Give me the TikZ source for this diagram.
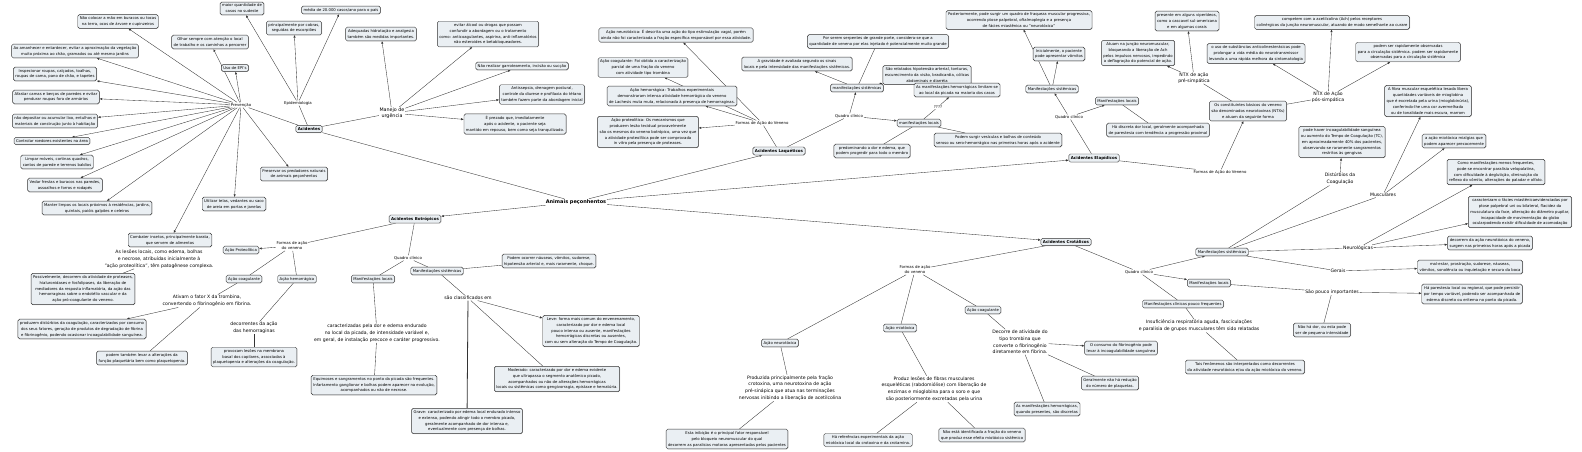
\documentclass[tikz,border=0pt]{standalone}
\usepackage{fontspec}
\setmainfont{DejaVu Sans}
\usetikzlibrary{arrows.meta,shadows}
\pgfdeclarelayer{bg}
\pgfsetlayers{bg,main}
\definecolor{boxfill}{HTML}{EAEFF3}
\definecolor{lncol}{HTML}{333333}
\tikzset{
 box/.style={draw=lncol, fill=boxfill, rounded corners=1.6pt, line width=0.45pt, inner xsep=2pt, inner ysep=2pt, align=center, font=\fontsize{3.8}{5.9}\selectfont, drop shadow={shadow xshift=0.5pt, shadow yshift=-0.5pt, fill=black!35}},
 bbox/.style={box, font=\bfseries\fontsize{4}{5}\selectfont},
 lbl/.style={align=center, inner sep=0.6pt, font=\fontsize{3.9}{5}\selectfont},
 big/.style={align=center, inner sep=0.6pt, font=\fontsize{4.6}{6.8}\selectfont},
 con/.style={draw=lncol, line width=0.35pt},
 arr/.style={con, -{Latex[length=2.6pt,width=2.2pt]}},
}
\begin{document}
\begin{tikzpicture}[x=1pt,y=-1pt]
\begin{pgfonlayer}{bg}
\useasboundingbox[fill=white] (0,0) rectangle (1582,452);
\end{pgfonlayer}
% ---------------- Acidentes (top-left)
\node[bbox] (acid) at (309,129) {Acidentes};
\node[lbl] (prev) at (241,105) {Prevenção};
\node[lbl] (epi) at (298,103) {Epidemiologia};
\node[lbl,font=\fontsize{4.8}{5.6}\selectfont] (manejo) at (392,113) {Manejo de\\urgência};
\node[box] (p1) at (118,21.5) {Não colocar a mão em buracos ou tocas\\na terra, ocos de árvore e cupinzeiros};
\node[box] (p2) at (210,42) {Olhar sempre com atenção o local\\de trabalho e os caminhos a percorrer};
\node[box] (p3) at (235,68) {Uso de EPI's};
\node[box] (p4) at (75,51) {Ao amanhecer e entardecer,  evitar a aproximação da vegetação\\muito próxima ao chão, gramados ou até mesmo jardins};
\node[box] (p5) at (55,74) {Inspecionar roupas, calçados, toalhas,\\roupas de cama, pano de chão, e tapetes};
\node[box] (p6) at (56,97) {Afastar camas e berços de paredes e evitar\\pendurar roupas fora de armários};
\node[box] (p7) at (55,121) {não depositar ou acumular lixo, entulhos e\\materiais de construção junto à habitação};
\node[box] (p8) at (52,141) {Controlar roedores existentes na área};
\node[box] (p9) at (57,162) {Limpar móveis, cortinas quadros,\\cantos de parede e terrenos baldios};
\node[box] (p10) at (65,185) {Vedar frestas e buracos nas paredes,\\assoalhos e forros e rodapés};
\node[box] (p11) at (97,208) {Manter limpos os locais próximos à residências, jardins,\\quintais, paióis galpões e celeiros};
\node[box] (p12) at (170,240) {Combater insetos, principalmente barata,\\que servem de alimentos};
\node[box] (p13) at (234,204) {Utilizar telas, vedantes ou saco\\de areia em portas e janelas};
\node[box] (p14) at (294,174) {Preservar os predadores naturais\\de animais peçonhentos};
\node[box] (e1) at (242,8.5) {maior quantidade de\\casos no sudeste};
\node[box] (e2) at (294,28) {principalmente por cobras,\\seguidas de escorpiões};
\node[box] (e3) at (341,10) {média de 20.000 casos/ano para o país};
\node[box] (m1) at (381,34) {Adequadas hidratação e analgesia\\também são medidas importantes.};
\node[box] (m2) at (488,34) {evitar álcool ou drogas que possam\\confundir a abordagem ou o tratamento\\como: anticoagulantes, aspirina, anti-inflamatórios\\não esteroides e betabloqueadores.};
\node[box] (m3) at (522,66) {Não realizar garroteamento, incisão ou sucção};
\node[box] (m4) at (542,94.5) {Antissepsia, drenagem postural,\\controle da diurese e profilaxia do tétano\\também fazem parte da abordagem inicial};
\node[box] (m5) at (515,124) {É prezado que, imediatamente\\após o acidente, o paciente seja\\mantido em repouso, bem como seja tranquilizado.};
% ---------------- central
\node[lbl,font=\bfseries\fontsize{5}{6}\selectfont] (ani) at (576,202) {Animais peçonhentos};
% ---------------- Laquéticos
\node[bbox] (laq) at (779,151) {Acidentes Laquéticos};
\node[lbl] (lfa) at (762,123) {Formas de Ação do Veneno};
\node[box] (l1) at (676,35) {Ação neurotóxica: É descrita uma ação do tipo estimulação vagal, porém\\ainda não foi caracterizada a fração específica responsável por essa atividade.};
\node[box] (l2) at (643,67.5) {Ação coagulante: Foi obtida a caracterização\\parcial de uma fração do veneno\\com atividade tipo trombina};
\node[box] (l3) at (672,96) {Ação hemorrágica: Trabalhos experimentais\\demonstraram intensa atividade hemorrágica do veneno\\de Lachesis muta muta, relacionada à presença de hemorraginas.};
\node[box] (l4) at (648,132) {Ação proteolítica: Os mecanismos que\\produzem lesão tecidual provavelmente\\são os mesmos do veneno botrópico, uma vez que\\a atividade proteolítica pode ser comprovada\\in vitro pela presença de proteases.};
\node[lbl] (lqc) at (849,116) {Quadro clínico};
\node[box] (lms) at (857,88) {manifestações sistêmicas};
\node[box] (lml) at (919,123) {manifestações locais};
\node[box] (l5) at (797,64) {A gravidade é avaliada segundo os sinais\\locais e pela intensidade das manifestações sistêmicas.};
\node[box] (l6) at (878,41.5) {Por serem serpentes de grande porte, considera-se que a\\quantidade de veneno por elas injetado é potencialmente muito grande};
\node[box] (l7) at (927,75) {São relatados hipotensão arterial, tonturas,\\escurecimento da visão, bradicardia, cólicas\\abdominais e diarréia};
\node[lbl] (lq) at (938,107) {????};
\node[box] (l8) at (957,90) {As manifestações hemorrágicas limitam-se\\ao local da picada na maioria dos casos};
\node[box] (l9) at (998,140) {Podem surgir vesículas e bolhas de conteúdo\\seroso ou sero-hemorrágico nas primeiras horas após o acidente};
\node[box] (l10) at (872,151) {predominando a dor e edema, que\\podem progredir para todo o membro};
% ---------------- Elapídicos
\node[bbox] (ela) at (1094,158) {Acidentes Elapídicos};
\node[lbl] (eqc) at (1069,117) {Quadro clínico};
\node[box] (ems) at (1052,89) {Manifestações sistêmicas};
\node[box] (eml) at (1117,101) {Manifestações locais};
\node[box] (e4) at (1059,54) {Inicialmente, o paciente\\pode apresentar vômitos};
\node[box] (e5) at (1019,20) {Posteriormente, pode surgir um quadro de fraqueza muscular progressiva,\\ocorrendo ptose palpebral, oftalmoplegia e a presença\\de fácies miastênica ou "neurotóxica"};
\node[box] (e6) at (1158,130) {Há discreta dor local, geralmente acompanhada\\de parestesia com tendência a progressão proximal};
\node[lbl] (efa) at (1220,172) {Formas de Ação do Veneno};
\node[box] (eos) at (1248,111) {Os constituintes básicos do veneno\\são denominados neurotoxinas (NTXs)\\e atuam da seguinte forma};
\node[lbl,font=\fontsize{4.6}{5.6}\selectfont] (ntxpre) at (1194,78) {NTX de ação\\pré-simpática};
\node[lbl,font=\fontsize{4.6}{5.6}\selectfont] (ntxpos) at (1328,97) {NTX de Ação\\pós-simpática};
\node[box] (e7) at (1138,53) {Atuam na junção neuromuscular,\\bloqueando a liberação de Ach\\pelos impulsos nervosos, impedindo\\a deflagração do potencial de ação.};
\node[box] (e8) at (1187,21) {presente em alguns viperídeos,\\como a cascavel sul-americana\\e em algumas corais};
\node[box] (e9) at (1332,22.5) {competem com a acetilcolina (Ach) pelos receptores\\colinérgicos da junção neuromuscular, atuando de modo semelhante ao curare};
\node[box] (e10) at (1256,53.5) {o uso de substâncias anticolinesterásicas pode\\prolongar a vida média do neurotransmissor\\levando a uma rápida melhora da sintomatologia};
\node[box] (e11) at (1408,52) {podem ser rapidamente observadas\\para a circulação sistêmica. podem ser rapidamente\\observadas para a circulação sistêmica};
% ---------------- Crotálicos
\node[bbox] (cro) at (1066,242) {Acidentes Crotálicos};
\node[lbl] (cfa) at (915,270) {Formas de ação\\do veneno};
\node[box] (cneu) at (780,343) {Ação neurotóxica};
\node[box] (cmio) at (900,328) {Ação miotóxica};
\node[box] (ccoa) at (983,310) {Ação coagulante};
\node[big] (c1) at (790,388) {Produzida principalmente pela fração\\crotoxina, uma neurotoxina de ação\\pré-sinápica que atua nas terminações\\nervosas inibindo a liberação de acetilcolina};
\node[box] (c2) at (727,439) {Esta inibição é o principal fator responsável\\pelo bloqueio neuromuscular do qual\\decorrem as paralisias motoras apresentadas pelos pacientes};
\node[big] (c3) at (934,389) {Produz lesões de fibras musculares\\esqueléticas (rabdomiólise)  com liberação de\\enzimas e mioglobina para o soro e que\\são posteriormente excretadas pela urina};
\node[box] (c4) at (868,440) {Há referências experimentais da ação\\miotóxica local da crotoxina e da crotamina.};
\node[box] (c5) at (982,435) {Não está identificada a fração do veneno\\que produz esse efeito miotóxico sistêmico};
\node[big] (c6) at (1020,342) {Decorre de atividade do\\tipo trombina que\\converte o fibrinogênio\\diretamente em fibrina.};
\node[box] (c7) at (1121,348) {O consumo do fibrinogênio pode\\levar à incoagulabilidade sanguínea};
\node[box] (c8) at (1110,383) {Geralmente não há redução\\do número de plaquetas.};
\node[box] (c9) at (1047,409) {As manifestações hemorrágicas,\\quando presentes, são discretas};
\node[lbl] (cqc) at (1139,272) {Quadro clínico};
\node[box] (cml) at (1209,283) {Manifestações locais};
\node[box] (cms) at (1222,252) {Manifestações sistêmicas};
\node[box] (cmf) at (1183,304) {Manifestações clínicas pouco frequentes};
\node[big] (c10) at (1199,326) {Insuficiência respiratória aguda, fasciculações\\e paralisia de grupos musculares têm sido relatadas};
\node[box] (c11) at (1245,367) {Tais fenômenos são interpretados como decorrentes\\da atividade neurotóxica e/ou da ação miotóxica do veneno.};
\node[big] (cspi) at (1332,292) {São pouco importantes};
\node[box] (c12) at (1322,330) {Não há dor, ou esta pode\\ser de pequena intensidade};
\node[box] (c13) at (1472,294) {Há parestesia local ou regional, que pode persistir\\por tempo variável, podendo ser acompanhada de\\edema discreto ou eritema no ponto da picada.};
\node[big] (cdc) at (1340,179) {Distúrbios da\\Coagulação};
\node[big] (cmu) at (1383,195) {Musculares};
\node[big] (cne) at (1358,248) {Neurológicas};
\node[big] (cge) at (1338,271) {Gerais};
\node[box] (c14) at (1342,142) {pode haver incoagulabilidade sanguínea\\ou aumento do Tempo de Coagulação (TC),\\em aproximadamente 40\% dos pacientes,\\observando-se raramente sangramentos\\restritos às gengivas};
\node[box] (c15) at (1428,101) {A fibra muscular esquelética lesada libera\\quantidades variáveis de mioglobina\\que é excretada pela urina (mioglobinúria),\\conferindo-lhe uma cor avermelhada\\ou de tonalidade mais escura, marrom};
\node[box] (c16) at (1454,141) {a ação miotóxica mialgias que\\podem aparecer precocemente};
\node[box] (c17) at (1496,172) {Como manifestações menos frequentes,\\pode-se encontrar paralisia velopalatina,\\com dificuldade à deglutição, diminuição do\\reflexo do vômito, alterações do paladar e olfato.};
\node[box] (c18) at (1520,212) {caracterizam o fácies miastênicaevidenciadas por\\ptose palpebral uni ou bilateral, flacidez da\\musculatura da face, alteração do diâmetro pupilar,\\incapacidade de movimentação do globo\\ocularpodendo existir dificuldade de acomodação};
\node[box] (c19) at (1490,243) {decorrem da ação neurotóxica do veneno,\\surgem nas primeiras horas após a picada};
\node[box] (c20) at (1470,267) {mal-estar, prostração, sudorese, náuseas,\\vômitos, sonolência ou inquietação e secura da boca};
% ---------------- Botrópicos
\node[bbox] (bot) at (415,219) {Acidentes Botrópicos};
\node[lbl] (bfa) at (292,246) {Formas de ação\\do veneno};
\node[box] (bpro) at (241,250) {Ação Proteolítica};
\node[big] (b1) at (159,259) {As lesões locais, como edema, bolhas\\e necrose, atribuídas inicialmente à\\"ação proteolítica", têm patogênese complexa.};
\node[box] (b2) at (83,289) {Possivelmente, decorrem da atividade de proteases,\\hialuronidases e fosfolipases, da liberação de\\mediadores da resposta inflamatória, da ação das\\hemorraginas sobre o endotélio vascular e da\\ação pró-coagulante do veneno.};
\node[box] (bcoa) at (244,279) {Ação coagulante};
\node[box] (bhem) at (297,279) {Ação hemorrágica};
\node[big] (b3) at (207,301) {Ativam o fator X da trombina,\\convertendo o fibrinogênio em fibrina.};
\node[box] (b4) at (82,329) {produzem distúrbios da coagulação, caracterizados por consumo\\dos seus fatores, geração de produtos de degradação de fibrina\\e fibrinogênio, podendo ocasionar incoagulabilidade sanguínea.};
\node[box] (b5) at (142,358) {podem também levar a alterações da\\função plaquetária bem como plaquetopenia.};
\node[big] (b6) at (254,328) {decorrentes da ação\\das hemorraginas};
\node[box] (b7) at (254,357) {provocam lesões na membrana\\basal dos capilares, associadas à\\plaquetopenia e alterações da coagulação.};
\node[lbl] (bqc) at (408,258) {Quadro clínico};
\node[box] (bml) at (373,279) {Manifestações locais};
\node[box] (bms) at (437,271) {Manifestações sistêmicas};
\node[big] (b8) at (377,333) {caracterizadas pela dor e edema endurado\\no local da picada, de intensidade variável e,\\em geral, de instalação precoce e caráter progressivo.};
\node[box] (b9) at (374,385) {Equimoses e sangramentos no ponto da picada são frequentes.\\Infartamento ganglionar e bolhas podem aparecer na evolução,\\acompanhados ou não de necrose.};
\node[box] (b10) at (549,261) {Podem ocorrer náuseas, vômitos, sudorese,\\hipotensão arterial e, mais raramente, choque.};
\node[big] (bsc) at (468,298) {são classificados em};
\node[box] (b11) at (591,331) {Leve: forma mais comum do envenenamento,\\caracterizado por dor e edema local\\pouco intenso ou ausente, manifestações\\hemorrágicas discretas ou ausentes,\\com ou sem alteração do Tempo de Coagulação.};
\node[box] (b12) at (557,379) {Moderado: caracterizado por dor e edema evidente\\que ultrapassa o segmento anatômico picado,\\acompanhados ou não de alterações hemorrágicas\\locais ou sistêmicas como gengivorragia, epistaxe e hematúria.};
\node[box] (b13) at (467,421) {Grave: caracterizado por edema local endurado intenso\\e extenso, podendo atingir todo o membro picado,\\geralmente acompanhado de dor intensa e,\\eventualmente com presença de bolhas.};
% ================= connectors (behind the boxes)
\begin{pgfonlayer}{bg}
\draw[con] (acid) -- (prev);
\draw[con] (acid) -- (epi);
\draw[con] (acid) -- (manejo);
\draw[con] (acid) -- (ani);
\foreach \t in {p1,p2,p3,p4,p5,p6,p7,p8,p9,p10,p11,p12,p13,p14} {\draw[arr] (prev) -- (\t);}
\foreach \t in {e1,e2,e3} {\draw[arr] (epi) -- (\t);}
\foreach \t in {m1,m2,m3,m4,m5} {\draw[arr] (manejo) -- (\t);}
\foreach \t in {bot,laq,ela,cro} {\draw[arr] (ani) -- (\t);}
% Laquéticos
\draw[con] (laq) -- (lfa);
\foreach \t in {l1,l2,l3,l4} {\draw[arr] (lfa) -- (\t);}
\draw[con] (laq) -- (lqc);
\draw[arr] (lqc) -- (lms);
\draw[arr] (lqc) -- (lml);
\draw[arr] (lms) -- (l5);
\draw[con] (lms) -- (l6);
\draw[arr] (lms) -- (l7);
\draw[con] (lml) -- (lq);
\draw[arr] (lq) -- (l8);
\draw[con] (lml) -- (l9);
\draw[con] (lml) -- (l10);
% Elapídicos
\draw[con] (ela) -- (eqc);
\draw[arr] (eqc) -- (ems);
\draw[arr] (eqc) -- (eml);
\draw[arr] (ems) -- (e4);
\draw[arr] (ems) -- (e5);
\draw[con] (eml) -- (e6);
\draw[con] (ela) -- (efa);
\draw[arr] (efa) -- (eos);
\draw[con] (eos) -- (ntxpre);
\draw[con] (eos) -- (ntxpos);
\draw[arr] (ntxpre) -- (e7);
\draw[arr] (ntxpre) -- (e8);
\foreach \t in {e9,e10,e11} {\draw[arr] (ntxpos) -- (\t);}
% Crotálicos
\draw[con] (cro) -- (cfa);
\draw[con] (cfa) -- (cneu);
\draw[con] (cfa) -- (cmio);
\draw[con] (cfa) -- (ccoa);
\draw[con] (cneu) -- (c1);
\draw[con] (c1) -- (c2);
\draw[con] (cmio) -- (c3);
\draw[con] (c3) -- (c4);
\draw[con] (c3) -- (c5);
\draw[con] (ccoa) -- (c6);
\draw[arr] (c6) -- (c7);
\draw[con] (c6) -- (c8);
\draw[con] (c6) -- (c9);
\draw[con] (cro) -- (cqc);
\draw[arr] (cqc) -- (cml);
\draw[arr] (cqc) -- (cms);
\draw[con] (cqc) -- (cmf);
\draw[con] (cmf) -- (c10);
\draw[con] (c10) -- (c11);
\draw[con] (cml) -- (cspi);
\draw[arr] (cspi) -- (c13);
\draw[con] (cspi) -- (c12);
\draw[con] (cms) -- (cdc);
\draw[arr] (cdc) -- (c14);
\draw[con] (cms) -- (cmu);
\draw[arr] (cmu) -- (c15);
\draw[arr] (cmu) -- (c16);
\draw[con] (cms) -- (cne);
\foreach \t in {c17,c18,c19} {\draw[arr] (cne) -- (\t);}
\draw[con] (cms) -- (cge);
\draw[arr] (cge) -- (c20);
% Botrópicos
\draw[con] (bot) -- (bfa);
\draw[arr] (bfa) -- (bpro);
\draw[con] (bfa) -- (bcoa);
\draw[con] (bfa) -- (bhem);
\draw[con] (b1) -- (b2);
\draw[con] (bcoa) -- (b3);
\draw[arr] (b3) -- (b4);
\draw[con] (b3) -- (b5);
\draw[con] (bhem) -- (b6);
\draw[con] (b6) -- (b7);
\draw[con] (bot) -- (bqc);
\draw[con] (bqc) -- (bml);
\draw[con] (bqc) -- (bms);
\draw[con] (bml) -- (b8);
\draw[con] (b8) -- (b9);
\draw[con] (bms) -- (b10);
\draw[con] (bms) -- (bsc);
\draw[arr] (bsc) -- (b11);
\draw[con] (bsc) -- (b12);
\draw[con, line width=0.8pt] (bsc) -- (b13);
\end{pgfonlayer}
\end{tikzpicture}
\end{document}
